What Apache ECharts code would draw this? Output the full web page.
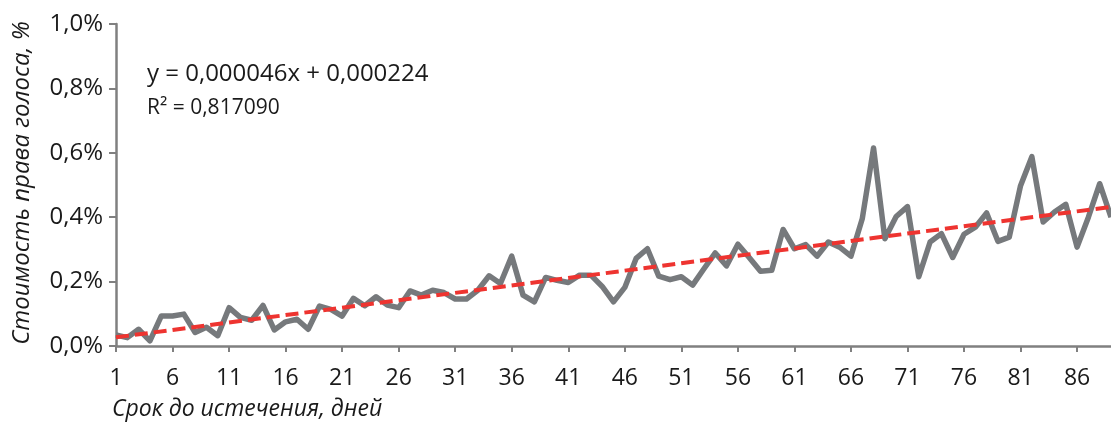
<!DOCTYPE html>
<html><head><meta charset="utf-8">
<script src="https://cdn.jsdelivr.net/npm/echarts@6/dist/echarts.min.js"></script>
<style>html,body{margin:0;padding:0;background:#fff}#c{width:1111px;height:426px}</style>
</head><body><div id="c"></div>
<script>
const days = [1,2,3,4,5,6,7,8,9,10,11,12,13,14,15,16,17,18,19,20,21,22,23,24,25,26,27,28,29,30,31,32,33,34,35,36,37,38,39,40,41,42,43,44,45,46,47,48,49,50,51,52,53,54,55,56,57,58,59,60,61,62,63,64,65,66,67,68,69,70,71,72,73,74,75,76,77,78,79,80,81,82,83,84,85,86,87,88,89];
const votePrice = [0.034,0.026,0.052,0.016,0.093,0.093,0.099,0.042,0.058,0.032,
  0.119,0.089,0.080,0.126,0.050,0.075,0.083,0.052,0.124,0.114,
  0.093,0.148,0.125,0.153,0.127,0.119,0.171,0.158,0.173,0.166,
  0.146,0.146,0.173,0.218,0.194,0.279,0.158,0.137,0.213,0.204,
  0.197,0.220,0.220,0.185,0.137,0.182,0.272,0.302,0.217,0.206,
  0.215,0.189,0.240,0.289,0.249,0.316,0.275,0.232,0.235,0.362,
  0.302,0.315,0.279,0.323,0.307,0.279,0.395,0.615,0.333,0.402,
  0.433,0.215,0.323,0.349,0.275,0.347,0.369,0.413,0.325,0.338,
  0.498,0.588,0.385,0.416,0.440,0.307,0.400,0.504,0.400];
const trendEnds = [0.027, 0.432];
const yTickLabels = ['0,0%','0,2%','0,4%','0,6%','0,8%','1,0%'];
const eqText = 'y = 0,000046x + 0,000224';
const r2Text = 'R² = 0,817090';
const xName = 'Срок до истечения, дней';
const yName = 'Стоимость права голоса, %';

const FONT = '"Open Sans", "Noto Sans", sans-serif';
const AX = '#808080';
const chart = echarts.init(document.getElementById('c'), null, {renderer:'canvas'});
chart.setOption({
  animation:false,
  backgroundColor:'#fff',
  grid:{left:116, right:0, top:24, bottom:80, containLabel:false},
  xAxis:{type:'category', data:days, boundaryGap:false,
    axisLine:{lineStyle:{color:AX, width:2.5}},
    axisTick:{show:true, interval:4, length:6, lineStyle:{color:AX, width:2}},
    axisLabel:{interval:4, color:'#1a1a1a', fontFamily:FONT, fontSize:23, margin:21}},
  yAxis:{type:'value', min:0, max:1.0, interval:0.2,
    splitLine:{show:false},
    axisLine:{show:true, lineStyle:{color:AX, width:2.5}},
    axisTick:{show:true, length:7, lineStyle:{color:AX, width:2}},
    axisLabel:{color:'#1a1a1a', fontFamily:FONT, fontSize:24, margin:13,
      formatter:(v)=>yTickLabels[Math.round(v/0.2)]}},
  graphic:[
    {type:'text', left:147, top:62, style:{text:eqText, fontFamily:FONT, fontSize:24, fill:'#1a1a1a'}},
    {type:'text', left:147, top:98, style:{text:r2Text, fontFamily:FONT, fontSize:21, fill:'#1a1a1a'}},
    {type:'text', left:112, top:398, style:{text:xName, fontFamily:FONT, fontSize:23, fontStyle:'italic', fill:'#1a1a1a'}},
    {type:'text', x:22, y:183, rotation:Math.PI/2, style:{text:yName, fontFamily:FONT, fontSize:24, fontStyle:'italic', fill:'#1a1a1a', align:'center', verticalAlign:'middle'}}
  ],
  series:[
    {type:'line', data:votePrice, symbol:'none', lineStyle:{color:'#76797c', width:5.5, join:'round'}, z:2},
    {type:'line', data:[[0, trendEnds[0]],[days.length-1, trendEnds[1]]], symbol:'none',
      lineStyle:{color:'#ee3430', width:4, type:[13,6]}, z:3}
  ]
});
</script></body></html>
